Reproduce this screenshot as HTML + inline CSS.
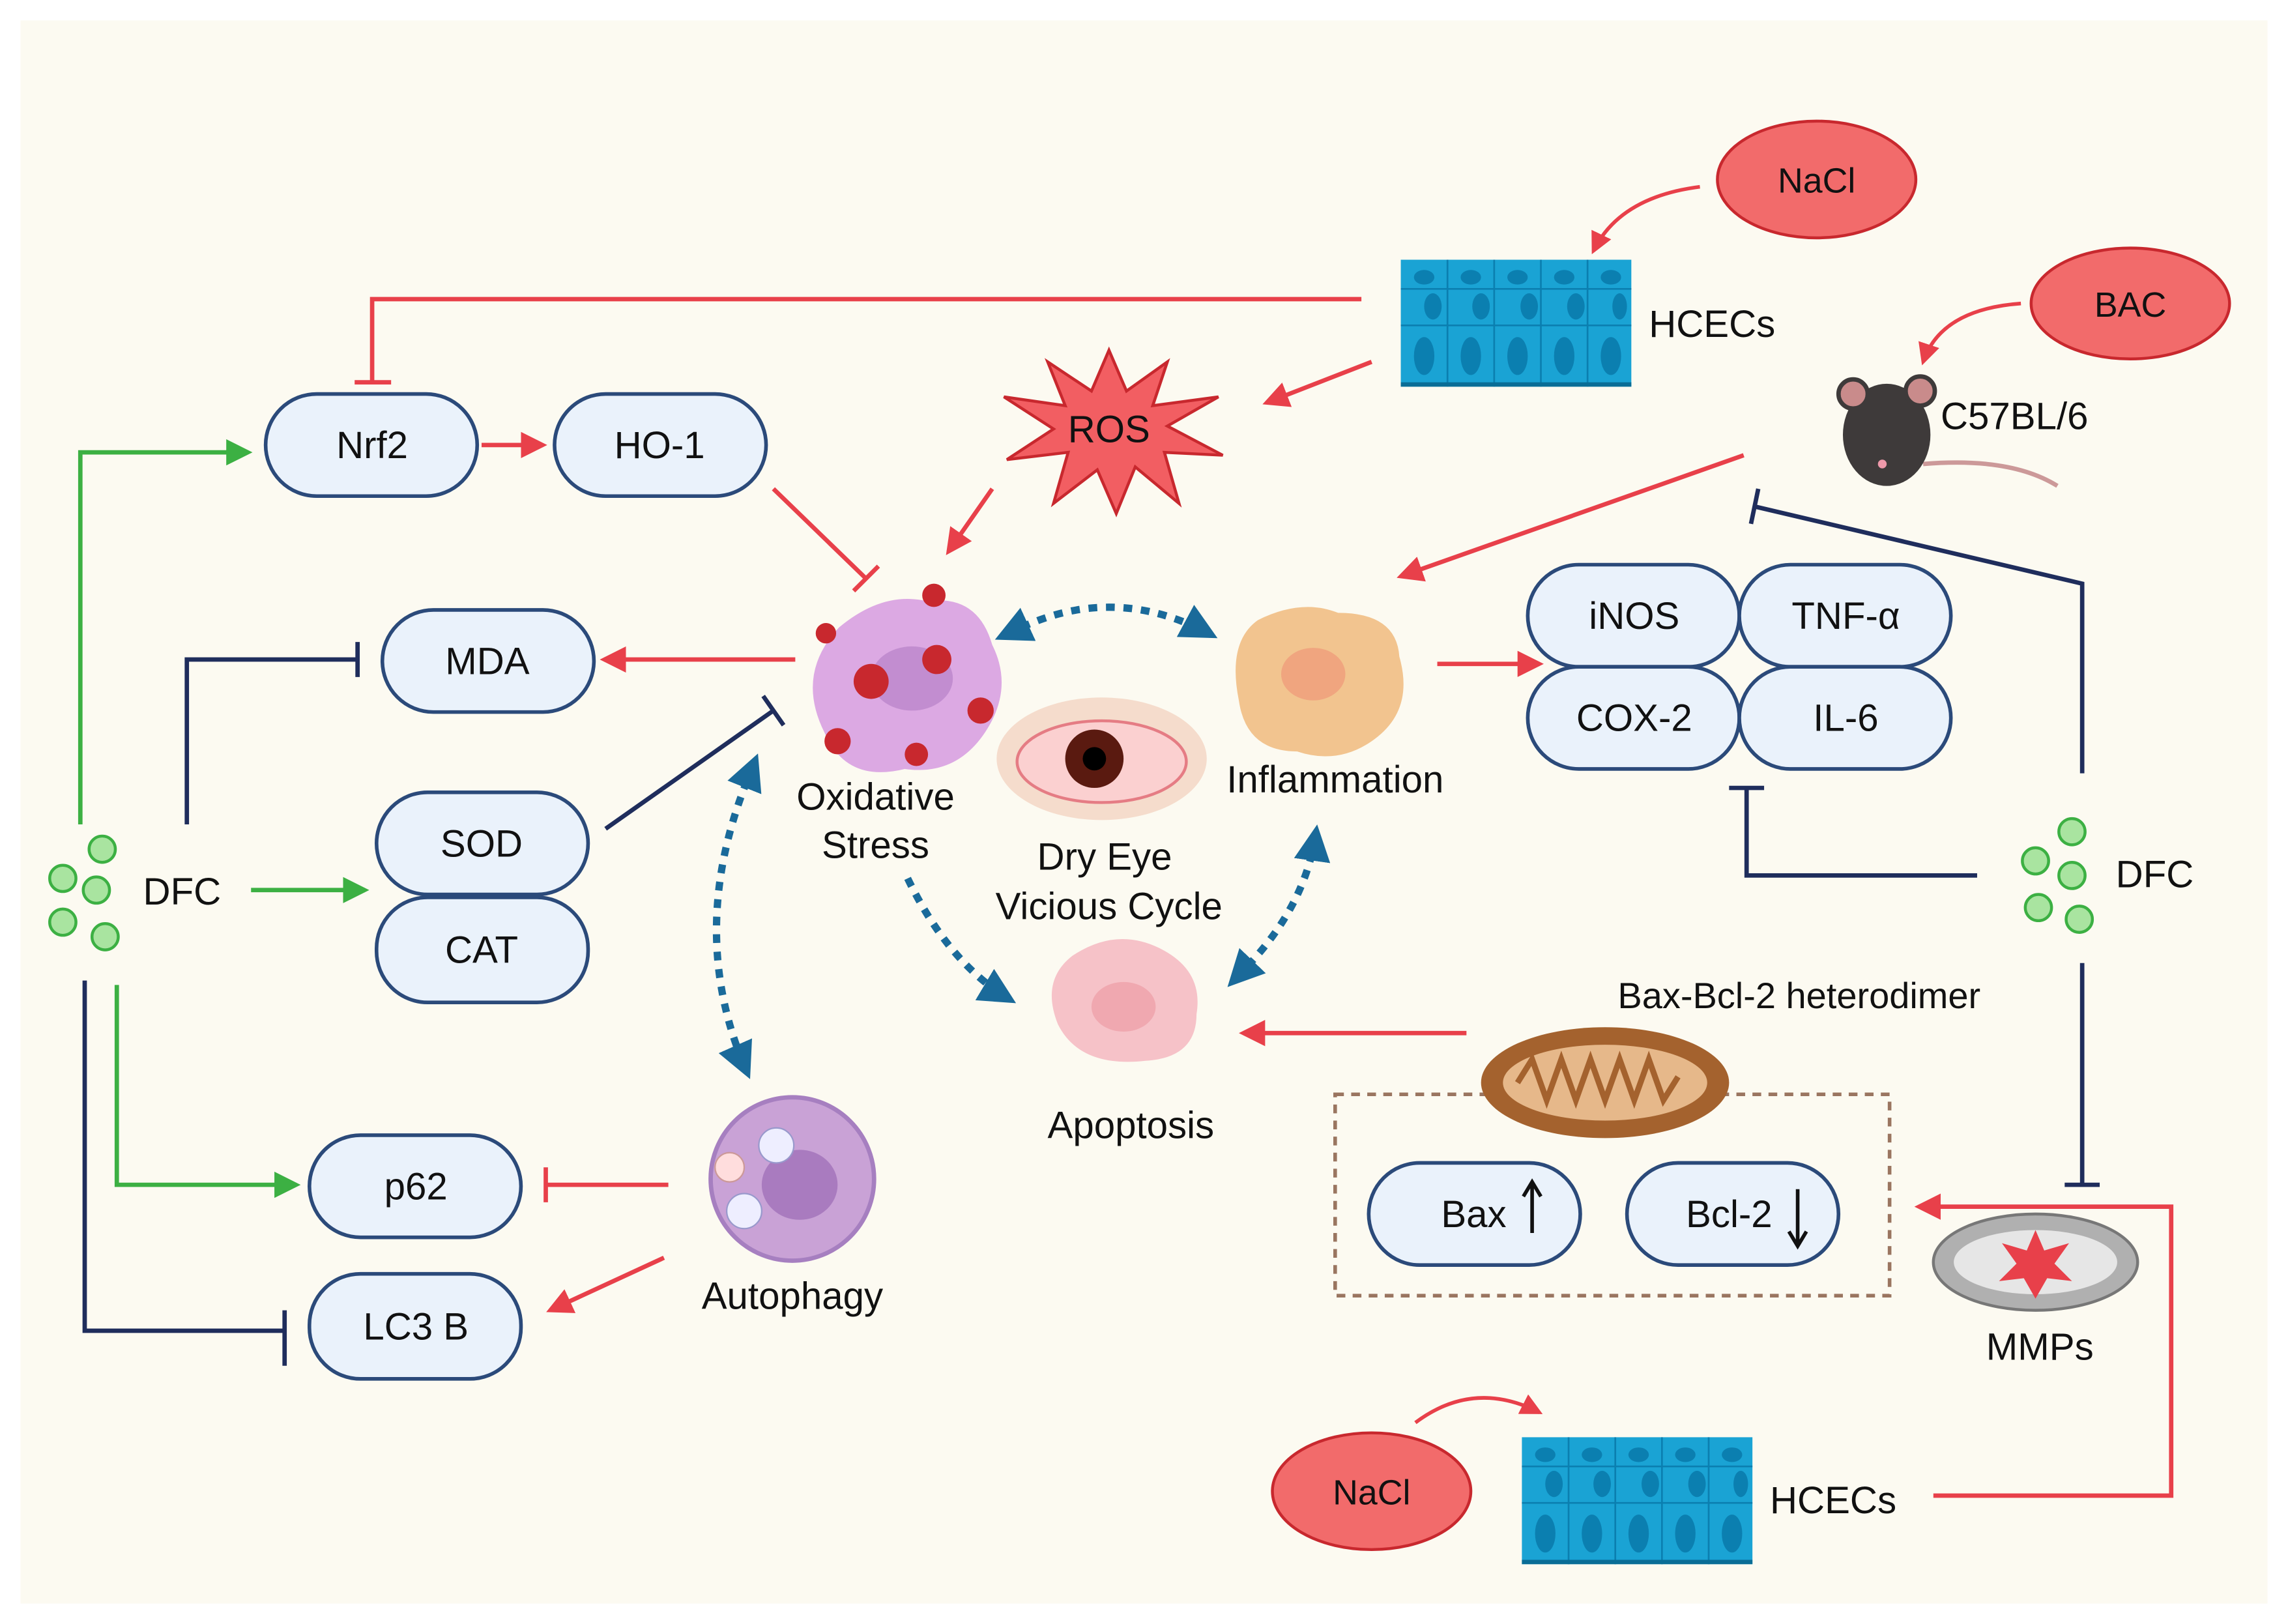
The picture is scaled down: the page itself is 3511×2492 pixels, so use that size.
<!DOCTYPE html>
<html><head><meta charset="utf-8"><style>
html,body{margin:0;padding:0;background:#fff;}
svg{display:block;}
text{font-family:"Liberation Sans",Arial,sans-serif;fill:#111;}
</style></head><body>
<svg width="3511" height="2492" viewBox="0 0 1568 1113" xmlns="http://www.w3.org/2000/svg">
<defs>
<marker id="ar" markerWidth="6" markerHeight="6" refX="5" refY="3" orient="auto" markerUnits="strokeWidth"><path d="M0,0 L6,3 L0,6 Z" fill="#e8404a"/></marker>
<marker id="ag" markerWidth="6" markerHeight="6" refX="5" refY="3" orient="auto" markerUnits="strokeWidth"><path d="M0,0 L6,3 L0,6 Z" fill="#3cb043"/></marker>
<marker id="ab" markerWidth="5" markerHeight="5" refX="4" refY="2.5" orient="auto" markerUnits="strokeWidth"><path d="M0,0 L5,2.5 L0,5 Z" fill="#1a6a9a"/></marker>
<marker id="abs" markerWidth="5" markerHeight="5" refX="1" refY="2.5" orient="auto-start-reverse" markerUnits="strokeWidth"><path d="M0,0 L5,2.5 L0,5 Z" fill="#1a6a9a"/></marker>
<g id="tissue">
<rect x="0" y="0" width="158" height="87" fill="#1aa3d4"/>
<g fill="#0b7fb0"><ellipse cx="16" cy="12" rx="7" ry="5"/><ellipse cx="48" cy="12" rx="7" ry="5"/><ellipse cx="80" cy="12" rx="7" ry="5"/><ellipse cx="112" cy="12" rx="7" ry="5"/><ellipse cx="144" cy="12" rx="7" ry="5"/>
<ellipse cx="22" cy="32" rx="6" ry="9"/><ellipse cx="55" cy="32" rx="6" ry="9"/><ellipse cx="88" cy="32" rx="6" ry="9"/><ellipse cx="120" cy="32" rx="6" ry="9"/><ellipse cx="150" cy="32" rx="5" ry="9"/>
<ellipse cx="16" cy="66" rx="7" ry="13"/><ellipse cx="48" cy="66" rx="7" ry="13"/><ellipse cx="80" cy="66" rx="7" ry="13"/><ellipse cx="112" cy="66" rx="7" ry="13"/><ellipse cx="144" cy="66" rx="7" ry="13"/></g>
<g stroke="#0b7fb0" stroke-width="1.2"><line x1="0" y1="20" x2="158" y2="20"/><line x1="0" y1="45" x2="158" y2="45"/><line x1="32" y1="0" x2="32" y2="87"/><line x1="64" y1="0" x2="64" y2="87"/><line x1="96" y1="0" x2="96" y2="87"/><line x1="128" y1="0" x2="128" y2="87"/></g>
<rect x="0" y="84" width="158" height="3" fill="#0a6d96"/>
</g>
</defs>
<rect x="0" y="0" width="1568" height="1113" fill="#fff"/>
<rect x="14" y="14" width="1540" height="1085" fill="#fcfaf1"/>

<g fill="#eaf2fb" stroke="#2b4a7a" stroke-width="2.5">
<rect x="182" y="270" width="145" height="70" rx="35"/>
<rect x="380" y="270" width="145" height="70" rx="35"/>
<rect x="262" y="418" width="145" height="70" rx="35"/>
<rect x="258" y="543" width="145" height="70" rx="35"/>
<rect x="258" y="615" width="145" height="72" rx="35"/>
<rect x="212" y="778" width="145" height="70" rx="35"/>
<rect x="212" y="873" width="145" height="72" rx="35"/>
<rect x="1047" y="387" width="145" height="70" rx="35"/>
<rect x="1192" y="387" width="145" height="70" rx="35"/>
<rect x="1047" y="457" width="145" height="70" rx="35"/>
<rect x="1192" y="457" width="145" height="70" rx="35"/>
<rect x="938" y="797" width="145" height="70" rx="35"/>
<rect x="1115" y="797" width="145" height="70" rx="35"/>
</g>
<g font-size="26" text-anchor="middle">
<text x="255" y="314">Nrf2</text><text x="452" y="314">HO-1</text>
<text x="334" y="462">MDA</text><text x="330" y="587">SOD</text><text x="330" y="660">CAT</text>
<text x="285" y="822">p62</text><text x="285" y="918">LC3 B</text>
<text x="1120" y="431">iNOS</text><text x="1265" y="431">TNF-α</text>
<text x="1120" y="501">COX-2</text><text x="1265" y="501">IL-6</text>
<text x="1010" y="841">Bax</text><text x="1185" y="841">Bcl-2</text>
</g>
<path d="M1050,845 V812 M1044,820 L1050,810 L1056,820" stroke="#111" stroke-width="2.5" fill="none"/>
<path d="M1232,815 V852 M1226,844 L1232,854 L1238,844" stroke="#111" stroke-width="2.5" fill="none"/>

<rect x="915" y="750" width="380" height="138" fill="none" stroke="#9a7560" stroke-width="2.5" stroke-dasharray="6,5"/>

<g fill="#f26b6b" stroke="#c8282e" stroke-width="2"><ellipse cx="1245" cy="123" rx="68" ry="40"/><ellipse cx="1460" cy="208" rx="68" ry="38"/><ellipse cx="940" cy="1022" rx="68" ry="40"/></g>
<g font-size="24" text-anchor="middle"><text x="1245" y="132">NaCl</text><text x="1460" y="217">BAC</text><text x="940" y="1031">NaCl</text></g>

<use href="#tissue" x="960" y="178"/>
<use href="#tissue" x="1043" y="985"/>
<g font-size="26"><text x="1130" y="231">HCECs</text><text x="1213" y="1037">HCECs</text><text x="1330" y="294">C57BL/6</text></g>

<!-- mouse -->
<path d="M1318,318 q60,-5 92,15" stroke="#c99" stroke-width="3" fill="none"/>
<ellipse cx="1293" cy="298" rx="30" ry="35" fill="#3e3a3a"/>
<circle cx="1270" cy="270" r="10" fill="#c98b8b" stroke="#3e3a3a" stroke-width="3"/>
<circle cx="1316" cy="268" r="10" fill="#c98b8b" stroke="#3e3a3a" stroke-width="3"/>
<circle cx="1290" cy="318" r="3" fill="#e9a"/>

<polygon points="760,240 772,268 800,248 790,278 835,272 800,292 838,312 798,310 808,345 778,320 765,352 752,322 722,345 732,310 690,315 722,294 688,272 730,278 718,248 748,268" fill="#f25e62" stroke="#c8282e" stroke-width="2"/>
<text x="760" y="303" font-size="26" text-anchor="middle">ROS</text>

<path d="M575,430 q30,-25 60,-18 q35,-5 45,30 q15,30 -5,60 q-20,30 -55,25 q-40,10 -55,-25 q-20,-40 10,-72z" fill="#dca9e3"/>
<ellipse cx="625" cy="465" rx="28" ry="22" fill="#c28dd0"/>
<g fill="#c8282e"><circle cx="597" cy="467" r="12"/><circle cx="642" cy="452" r="10"/><circle cx="672" cy="487" r="9"/><circle cx="574" cy="508" r="9"/><circle cx="628" cy="517" r="8"/><circle cx="640" cy="408" r="8"/><circle cx="566" cy="434" r="7"/></g>
<text x="600" y="555" font-size="26" text-anchor="middle">Oxidative</text>
<text x="600" y="588" font-size="26" text-anchor="middle">Stress</text>

<path d="M862,425 q30,-15 55,-5 q40,0 42,30 q10,35 -15,55 q-25,20 -55,10 q-35,0 -40,-35 q-8,-40 13,-55z" fill="#f2c48f"/>
<ellipse cx="900" cy="462" rx="22" ry="18" fill="#f0a57f"/>
<text x="915" y="543" font-size="26" text-anchor="middle">Inflammation</text>

<ellipse cx="755" cy="520" rx="72" ry="42" fill="#f5dccc"/>
<ellipse cx="755" cy="522" rx="58" ry="28" fill="#fbd0d0" stroke="#e57c84" stroke-width="2"/>
<circle cx="750" cy="520" r="20" fill="#5a1a10"/><circle cx="750" cy="520" r="8" fill="#000"/>
<text x="757" y="596" font-size="26" text-anchor="middle">Dry Eye</text>
<text x="760" y="630" font-size="26" text-anchor="middle">Vicious Cycle</text>

<path d="M735,655 q30,-20 60,-5 q30,15 25,45 q0,30 -35,32 q-45,5 -60,-25 q-12,-30 10,-47z" fill="#f6c2c8"/>
<ellipse cx="770" cy="690" rx="22" ry="17" fill="#f0a8b0"/>
<text x="775" y="780" font-size="26" text-anchor="middle">Apoptosis</text>

<circle cx="543" cy="808" r="56" fill="#c9a2d6" stroke="#a67fc0" stroke-width="3"/>
<ellipse cx="548" cy="812" rx="26" ry="24" fill="#a97bbf"/>
<circle cx="532" cy="785" r="12" fill="#eef" stroke="#99c" /><circle cx="500" cy="800" r="10" fill="#fdd" stroke="#c99"/><circle cx="510" cy="830" r="12" fill="#eef" stroke="#99c"/>
<text x="543" y="897" font-size="26" text-anchor="middle">Autophagy</text>

<ellipse cx="1100" cy="742" rx="85" ry="38" fill="#a4622e"/>
<ellipse cx="1100" cy="742" rx="70" ry="26" fill="#e6b88a"/>
<path d="M1040,742 l10,-16 l10,28 l10,-28 l10,28 l10,-28 l10,28 l10,-28 l10,28 l10,-28 l10,28 l10,-16" stroke="#a4622e" stroke-width="4" fill="none"/>
<text x="1233" y="691" font-size="25" text-anchor="middle">Bax-Bcl-2 heterodimer</text>

<ellipse cx="1395" cy="865" rx="70" ry="33" fill="#b0b0b0" stroke="#777" stroke-width="2"/>
<ellipse cx="1395" cy="865" rx="56" ry="22" fill="#e6e6e6"/>
<polygon points="1395,843 1401,857 1418,852 1408,866 1420,878 1403,876 1395,890 1387,876 1370,878 1382,866 1372,852 1389,857" fill="#e8404a"/>
<text x="1398" y="932" font-size="26" text-anchor="middle">MMPs</text>

<g fill="#a9e4a0" stroke="#3cb043" stroke-width="2">
<circle cx="70" cy="582" r="9"/><circle cx="43" cy="602" r="9"/><circle cx="66" cy="610" r="9"/><circle cx="43" cy="632" r="9"/><circle cx="72" cy="642" r="9"/>
<circle cx="1420" cy="570" r="9"/><circle cx="1395" cy="590" r="9"/><circle cx="1420" cy="600" r="9"/><circle cx="1397" cy="622" r="9"/><circle cx="1425" cy="630" r="9"/>
</g>
<text x="98" y="620" font-size="26">DFC</text>
<text x="1450" y="608" font-size="26">DFC</text>

<g stroke="#e8404a" stroke-width="3" fill="none">
<path d="M933,205 H255 V262"/><path d="M243,262 H268"/>
<path d="M940,248 L868,276" marker-end="url(#ar)"/>
<path d="M330,305 H372" marker-end="url(#ar)"/>
<path d="M530,335 L594,397"/><path d="M585,405 L602,388"/>
<path d="M680,335 L650,378" marker-end="url(#ar)"/>
<path d="M545,452 H414" marker-end="url(#ar)"/>
<path d="M458,812 H374"/><path d="M374,800 V824"/>
<path d="M455,862 L377,898" marker-end="url(#ar)"/>
<path d="M985,455 H1055" marker-end="url(#ar)"/>
<path d="M1195,312 L960,395" marker-end="url(#ar)"/>
<path d="M1325,1025 H1488 V827 H1315" marker-end="url(#ar)"/>
<path d="M1005,708 H852" marker-end="url(#ar)"/>
<path d="M1165,128 Q1110,135 1092,172" stroke-width="2.5" marker-end="url(#ar)"/>
<path d="M1385,208 Q1330,212 1318,248" stroke-width="2.5" marker-end="url(#ar)"/>
<path d="M970,975 Q1010,945 1055,968" stroke-width="2.5" marker-end="url(#ar)"/>
</g>

<g stroke="#3cb043" stroke-width="3" fill="none">
<path d="M55,565 V310 H170" marker-end="url(#ag)"/>
<path d="M172,610 H250" marker-end="url(#ag)"/>
<path d="M80,675 V812 H203" marker-end="url(#ag)"/>
</g>

<g stroke="#1f2d5c" stroke-width="3" fill="none">
<path d="M128,565 V452 H245"/><path d="M245,440 V464"/>
<path d="M415,568 L530,487"/><path d="M523,477 L537,497"/>
<path d="M58,672 V912 H195"/><path d="M195,898 V936"/>
<path d="M1427,530 V400 L1202,347"/><path d="M1205,335 L1200,359"/>
<path d="M1355,600 H1197 V540"/><path d="M1185,540 H1209"/>
<path d="M1427,660 V812"/><path d="M1415,812 H1439"/>
</g>

<g stroke="#1a6a9a" stroke-width="5" fill="none" stroke-dasharray="6,6">
<path d="M700,430 Q765,400 830,435" marker-start="url(#abs)" marker-end="url(#ab)"/>
<path d="M512,535 Q470,640 512,735" marker-start="url(#abs)" marker-end="url(#ab)"/>
<path d="M622,602 Q650,660 692,685" marker-end="url(#ab)"/>
<path d="M855,662 Q895,620 902,570" marker-start="url(#abs)" marker-end="url(#ab)"/>
</g>
</svg>
</body></html>
